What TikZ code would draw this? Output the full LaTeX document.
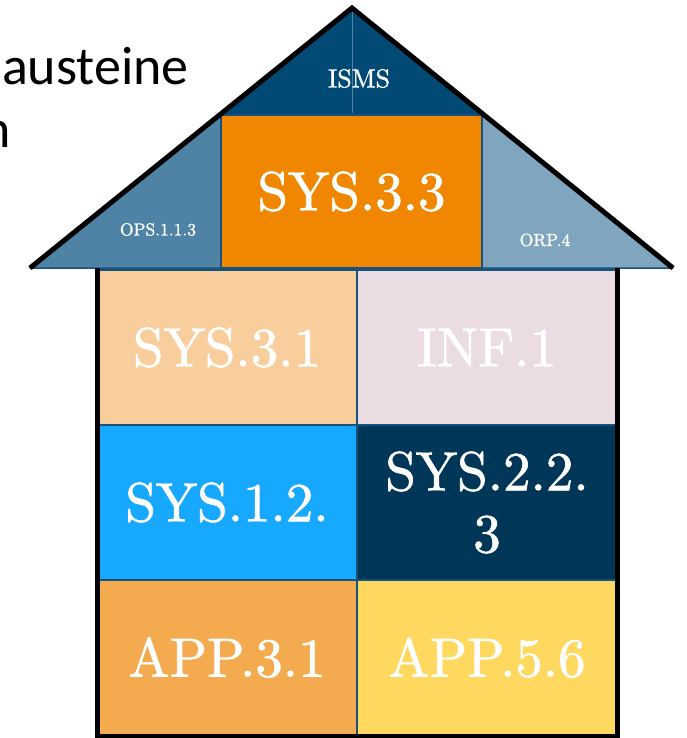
\documentclass[tikz,border=0pt]{standalone}
\usepackage{fontspec}
\newfontfamily\slidefont{Carlito}
\newfontfamily\cellfont{lmroman10-regular}[Extension=.otf, FakeBold=1.2]
\usetikzlibrary{positioning}
\definecolor{cisms}{HTML}{024A76}
\definecolor{cops}{HTML}{4E83A6}
\definecolor{corp}{HTML}{7FA6BE}
\definecolor{csysc}{HTML}{F18700}
\definecolor{csysa}{HTML}{F8CF9C}
\definecolor{cinf}{HTML}{EBDBE3}
\definecolor{csysb}{HTML}{17A8FF}
\definecolor{csysd}{HTML}{003658}
\definecolor{cappa}{HTML}{F4AA4F}
\definecolor{cappb}{HTML}{FFD85F}
\definecolor{cedge}{HTML}{17527D}
\tikzset{
  cell/.style={draw=cedge, fill=#1, line width=1.5pt, minimum width=260pt, minimum height=155pt, inner sep=0pt, outer sep=0pt, text=white, align=center, font=\cellfont\fontsize{55}{62}\selectfont},
  roofpart/.style={draw=cedge, fill=#1, line width=1.5pt, line join=round},
  small/.style={text=white, inner sep=0pt, font=\cellfont\fontsize{17.5}{20}\selectfont},
  slide/.style={anchor=base east, inner sep=0pt, font=\slidefont\fontsize{54}{64}\selectfont},
  outline/.style={draw=black, line width=5pt, line join=miter},
}

\begin{document}
\begin{tikzpicture}[x=1pt, y=-1pt]
  \useasboundingbox (0,0) rectangle (687,738);
  % ---------- slide text behind ----------
  \node[slide] (word) at (189,85) {Bausteine};
  \node[slide] (wordb) at (11,148) {n};
  % ---------- roof ----------
  \coordinate (apex) at (352,8);
  \coordinate (eavel) at (30,268);
  \coordinate (eaver) at (673,268);
  \draw[roofpart=cisms] (apex) -- (219.5,115) -- (484.5,115) -- cycle;
  \draw[roofpart=cops] (219.5,115) -- (eavel) -- (221,268) -- (221,115) -- cycle;
  \draw[roofpart=corp] (484.5,115) -- (eaver) -- (482,268) -- (482,115) -- cycle;
  \node[cell=csysc, minimum width=261pt, minimum height=153pt] (sys33) at (351.5,191.5) {SYS.3.3};
  \draw[cops, line width=0.7pt] (apex) -- (352,113);
  \node[text=white, inner sep=0pt, font=\cellfont\fontsize{26}{30}\selectfont] (isms) at (359,78.5) {ISMS};
  \node[small] (ops) at (158,229.5) {OPS.1.1.3};
  \node[small] (orp) at (545,240) {ORP.4};
  % ---------- walls ----------
  \node[cell=csysa] (sys31) at (227,347.5) {SYS.3.1};
  \node[cell=cinf, right=0pt of sys31] (inf1) {INF.1};
  \node[cell=csysb, below=0pt of sys31] (sys12) {SYS.1.2.};
  \node[cell=csysd, right=0pt of sys12] (sys223) {SYS.2.2.\\3};
  \node[cell=cappa, below=0pt of sys12] (app31) {APP.3.1};
  \node[cell=cappb, right=0pt of app31] (app56) {APP.5.6};
  \draw[outline] ([yshift=2pt]sys31.north west) |- ([yshift=-1pt]app56.south east) -- ([yshift=2pt]inf1.north east);
  \draw[outline] (eavel) -- (apex) -- (eaver);
\end{tikzpicture}
\end{document}
